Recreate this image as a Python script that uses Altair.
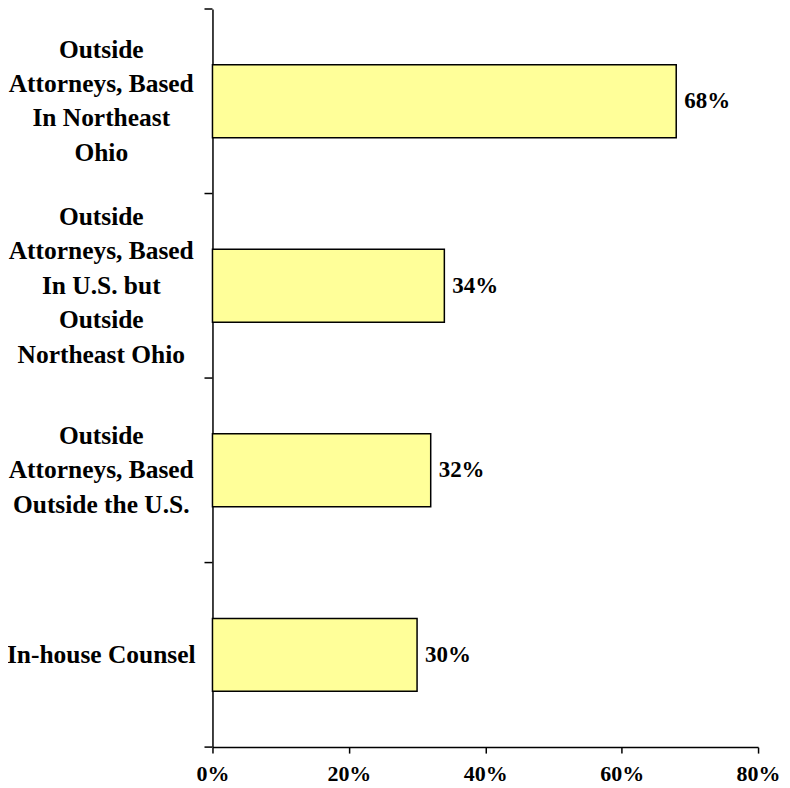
import altair as alt
import pandas as pd

categories = [
    "Outside|Attorneys, Based|In Northeast|Ohio",
    "Outside|Attorneys, Based|In U.S. but|Outside|Northeast Ohio",
    "Outside|Attorneys, Based|Outside the U.S.",
    "In-house Counsel",
]
values = [0.68, 0.34, 0.32, 0.30]
value_labels = ["68%", "34%", "32%", "30%"]
x_ticks = [0, 0.2, 0.4, 0.6, 0.8]

df = pd.DataFrame({"cat": categories, "val": values, "lab": value_labels})
df_last = df.iloc[[-1]]

FONT = "Liberation Serif"
LINE_H = 34.5
yscale = alt.Scale(domain=categories, paddingInner=0, paddingOuter=0)

# vertically centre multi-line labels on their band
offset_conditions = [
    {"test": f"length(split(datum.value, '|')) == {n}", "value": -(n - 1) * LINE_H / 2}
    for n in (2, 3, 4, 5)
]

y_enc = alt.Y(
    "cat:N",
    sort=categories,
    title=None,
    scale=yscale,
    axis=alt.Axis(
        labelExpr="split(datum.label, '|')",
        labelFont=FONT,
        labelFontSize=25.5,
        labelFontWeight="bold",
        labelColor="black",
        labelAlign="center",
        labelBaseline="middle",
        labelLineHeight=LINE_H,
        labelPadding=112,
        labelLimit=400,
        labelOffset={"condition": offset_conditions, "value": 0},
        ticks=False,
        domainColor="black",
        domainWidth=1.5,
    ),
)

x_enc = alt.X(
    "val:Q",
    title=None,
    scale=alt.Scale(domain=[0, 0.8]),
    axis=alt.Axis(
        values=x_ticks,
        format=".0%",
        labelFont=FONT,
        labelFontSize=22,
        labelFontWeight="bold",
        labelColor="black",
        labelPadding=10,
        labelFlush=False,
        tickSize=6,
        tickColor="black",
        tickWidth=1.5,
        domainColor="black",
        domainWidth=1.5,
        grid=False,
    ),
)

bars = alt.Chart(df).mark_bar(
    color="#FFFF99", stroke="black", strokeWidth=1.5,
    height=alt.RelativeBandSize(0.395),
).encode(x=x_enc, y=y_enc)

text = alt.Chart(df).mark_text(
    align="left", baseline="middle", dx=8,
    font=FONT, fontSize=23, fontWeight="bold", color="black"
).encode(x="val:Q", y=alt.Y("cat:N", sort=categories, scale=yscale), text="lab:N")

# y-axis tick marks at category boundaries
ticks_top = alt.Chart(df).mark_rule(color="black", strokeWidth=1.5).encode(
    x=alt.value(-8), x2=alt.value(0),
    y=alt.Y("cat:N", sort=categories, scale=yscale, bandPosition=0),
)
ticks_bottom = alt.Chart(df_last).mark_rule(color="black", strokeWidth=1.5).encode(
    x=alt.value(-8), x2=alt.value(0),
    y=alt.Y("cat:N", sort=categories, scale=yscale, bandPosition=1),
)

chart = (
    alt.layer(bars, text, ticks_top, ticks_bottom)
    .properties(
        width=547,
        height=740,
        background="white",
        autosize=alt.AutoSizeParams(type="none"),
        padding={"left": 205, "top": 0, "right": 24, "bottom": 40},
    )
    .configure_view(stroke="transparent", strokeWidth=0)
)

chart.save("out.html", embed_options={"renderer": "svg", "actions": False})
